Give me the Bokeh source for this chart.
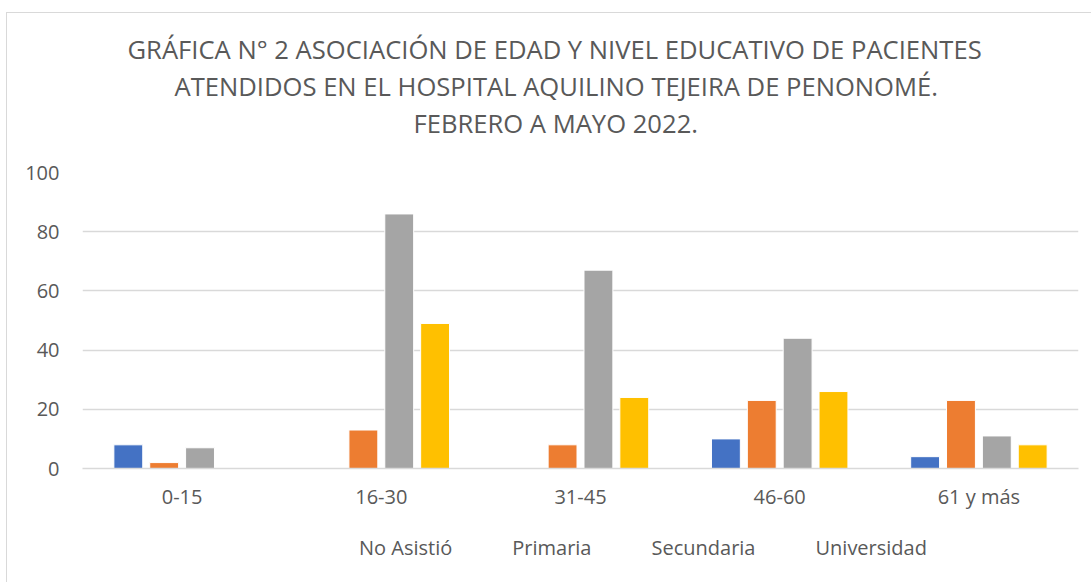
from bokeh.plotting import figure
from bokeh.layouts import column
from bokeh.models import ColumnDataSource, Range1d, FactorRange, Legend, LegendItem, Title, FixedTicker
from bokeh.transform import dodge
from bokeh.embed import file_html
from bokeh.resources import INLINE

categories = ["0-15", "16-30", "31-45", "46-60", "61 y más"]
series_names = ["No Asistió", "Primaria", "Secundaria", "Universidad"]
no_asistio = [8, 0, 0, 10, 4]
primaria = [2, 13, 8, 23, 23]
secundaria = [7, 86, 67, 44, 11]
universidad = [0, 49, 24, 26, 8]
colors = ["#4472C4", "#ED7D31", "#A5A5A5", "#FFC000"]
y_ticks = [0, 20, 40, 60, 80, 100]
title_lines = [
    "GRÁFICA N° 2 ASOCIACIÓN DE EDAD Y NIVEL EDUCATIVO DE PACIENTES",
    "ATENDIDOS EN EL HOSPITAL AQUILINO TEJEIRA DE PENONOMÉ.",
    "FEBRERO A MAYO 2022.",
]

source = ColumnDataSource(dict(cat=categories, s0=no_asistio, s1=primaria,
                               s2=secundaria, s3=universidad))

p = figure(x_range=FactorRange(*categories), y_range=Range1d(0, 100),
           frame_width=995, frame_height=295, output_backend="svg", toolbar_location=None,
           min_border_left=75, min_border_right=14, min_border_top=159,
           min_border_bottom=60)
p.title.text = ""
p.title.visible = False
p.margin = (12, 0, 0, 6)
p.styles = {"border-top": "1px solid #d9d9d9", "border-left": "1px solid #d9d9d9"}
p.outline_line_color = None

offsets = [-0.27, -0.09, 0.09, 0.27]
for i, off in enumerate(offsets):
    p.vbar(x=dodge("cat", off, range=p.x_range), top="s%d" % i, width=0.145,
           source=source, fill_color=colors[i], line_color="white", line_width=1)

p.xgrid.grid_line_color = None
p.ygrid.grid_line_color = "#d9d9d9"
p.ygrid.grid_line_width = 1.5
p.yaxis.ticker = FixedTicker(ticks=y_ticks)
p.yaxis.axis_line_color = None
p.yaxis.major_tick_line_color = None
p.yaxis.minor_tick_line_color = None
p.yaxis.major_label_standoff = 17
p.xaxis.axis_line_color = "#d9d9d9"
p.xaxis.axis_line_width = 1.5
p.xaxis.major_tick_line_color = None
p.xaxis.minor_tick_line_color = None
p.xaxis.major_label_standoff = 8
for ax in (p.xaxis, p.yaxis):
    ax.major_label_text_font = "Open Sans"
    ax.major_label_text_font_size = "20px"
    ax.major_label_text_color = "#595959"

# spacer between the title block and the plot area
p.add_layout(Title(text=" ", text_font_size="1px", standoff=29), "above")
title_offsets = [45, 92, 331]
for t, off in reversed(list(zip(title_lines, title_offsets))):
    p.add_layout(Title(text=t, align="left", offset=off, standoff=0,
                       text_font="Open Sans", text_font_size="25.6px",
                       text_font_style="normal", text_color="#595959",
                       text_line_height=1.0), "above")

# legend strip below the chart
p2 = figure(title=None, width=1084, height=55, output_backend="svg", toolbar_location=None,
            x_axis_type=None, y_axis_type=None, min_border=0,
            min_border_left=0, min_border_right=0, min_border_top=0, min_border_bottom=0)
p2.margin = (0, 0, 0, 6)
p2.styles = {"border-left": "1px solid #d9d9d9"}
p2.outline_line_color = None
p2.grid.visible = False
legend_renderers = []
for i in range(len(series_names)):
    legend_renderers.append(p2.vbar(x=[], top=[], width=0.5, fill_color=colors[i], line_color="white"))

legend = Legend(items=[LegendItem(label=n, renderers=[r]) for n, r in zip(series_names, legend_renderers)],
                orientation="horizontal", location=(257, 21),
                glyph_width=12, glyph_height=12, label_standoff=8, spacing=40,
                padding=0, margin=0, border_line_color=None, background_fill_alpha=0,
                label_text_font="Open Sans", label_text_font_size="20px",
                label_text_color="#595959", label_height=20)
p2.add_layout(legend)

layout = column(p, p2, spacing=0)
open("out.html", "w").write(file_html(layout, INLINE))
